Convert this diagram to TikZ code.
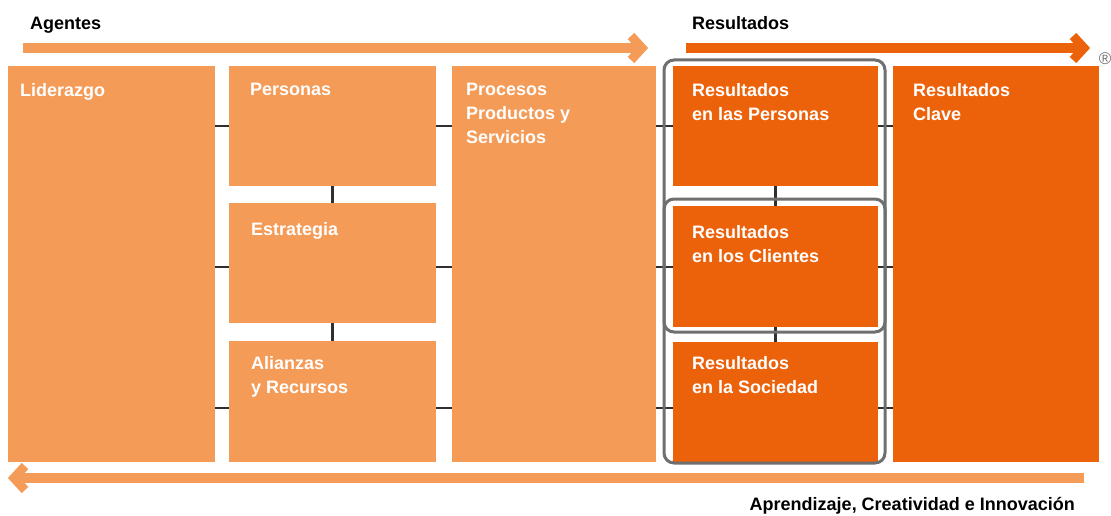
\documentclass[tikz,border=0pt]{standalone}
\usepackage{fontspec}
\setmainfont{Liberation Sans}
\usetikzlibrary{calc}
\definecolor{lightor}{HTML}{F49B57}
\definecolor{darkor}{HTML}{EC620B}
\definecolor{framegray}{HTML}{6F6F6F}
\definecolor{connc}{HTML}{2F2F2F}
\begin{document}
\begin{tikzpicture}[x=1pt,y=-1pt,
  blk/.style={anchor=north west, inner sep=0, outer sep=0, draw=none},
  lblk/.style={blk, fill=lightor},
  dblk/.style={blk, fill=darkor},
  lab/.style={anchor=north west, inner sep=0, align=left, text=white,
              font=\bfseries\fontsize{18}{24}\selectfont},
  ttl/.style={inner sep=0, text=black, font=\bfseries\fontsize{18}{22}\selectfont},
  conn/.style={draw=connc, line width=2.2pt},
  frm/.style={draw=framegray, line width=3pt, rounded corners=10pt},
  larrow/.style={lightor, line width=10pt},
  darrow/.style={darkor, line width=10pt},
  chev/.style={line width=9pt, line join=miter, line cap=butt}]
\useasboundingbox (0,0) rectangle (1111,516);

% titles
\node[ttl, anchor=base west] (ag) at (30,30) {Agentes};
\node[ttl, anchor=base west] (res) at (692,30) {Resultados};
\node[ttl, anchor=base east] (apr) at (1075,510) {Aprendizaje, Creatividad e Innovación};
\node[inner sep=0, text=framegray, font=\fontsize{17}{17}\selectfont] (reg) at (1105,59) {®};

% arrows
\coordinate (a1s) at (23,48);
\coordinate (a1e) at (641,48);
\draw[larrow] (a1s) -- (a1e);
\draw[chev, lightor] (631,36) -- (642,48) -- (631,60);
\coordinate (a2s) at (686,48);
\coordinate (a2e) at (1080,48);
\draw[darrow] (a2s) -- (a2e);
\draw[chev, darkor] (1073,36) -- (1084,48) -- (1073,60);
\coordinate (a3s) at (1084,478);
\coordinate (a3e) at (18,478);
\draw[larrow] (a3s) -- (a3e);
\draw[chev, lightor] (25,466) -- (14,478) -- (25,490);

% blocks
\node[lblk, minimum width=207pt, minimum height=396pt] (lid) at (8,66) {};
\node[lblk, minimum width=207pt, minimum height=120pt] (per) at (229,66) {};
\node[lblk, minimum width=207pt, minimum height=120pt] (est) at (229,203) {};
\node[lblk, minimum width=207pt, minimum height=121pt] (ali) at (229,341) {};
\node[lblk, minimum width=204pt, minimum height=396pt] (proc) at (452,66) {};
\node[dblk, minimum width=205pt, minimum height=120pt] (rp) at (673,66) {};
\node[dblk, minimum width=205pt, minimum height=121pt] (rc) at (673,206) {};
\node[dblk, minimum width=205pt, minimum height=120pt] (rs) at (673,342) {};
\node[dblk, minimum width=206pt, minimum height=396pt] (clave) at (893,66) {};

% labels
\node[lab] (tlid) at (20,83) {Liderazgo};
\node[lab] (tper) at (250,83) {Personas};
\node[lab] (test) at (251,222) {Estrategia};
\node[lab] (tali) at (251,356) {Alianzas\\y Recursos};
\node[lab] (tproc) at (466,83) {Procesos\\Productos y\\Servicios};
\node[lab] (trp) at (692,83) {Resultados\\en las Personas};
\node[lab] (trc) at (692,225) {Resultados\\en los Clientes};
\node[lab] (trs) at (692,356) {Resultados\\en la Sociedad};
\node[lab] (tclave) at (913,83) {Resultados\\Clave};

% connectors
\draw[conn] (lid.east |- per.west) -- (per.west);
\draw[conn] (lid.east |- 0,267) -- ($(est.west)+(0,4)$);
\draw[conn] (lid.east |- 0,408) -- (ali.west |- 0,408);
\draw[conn] (per.east) -- (proc.west |- per.east);
\draw[conn] ($(est.east)+(0,4)$) -- (proc.west |- 0,267);
\draw[conn] (ali.east |- 0,408) -- (proc.west |- 0,408);
\draw[conn] (per.south) -- (est.north);
\draw[conn] (est.south) -- (ali.north);

\draw[conn] (proc.east |- rp.west) -- (rp.west);
\draw[conn] (proc.east |- 0,267) -- (rc.west |- 0,267);
\draw[conn] (proc.east |- 0,408) -- (rs.west |- 0,408);
\draw[conn] (rp.east) -- (clave.west |- rp.east);
\draw[conn] (rc.east |- 0,267) -- (clave.west |- 0,267);
\draw[conn] (rs.east |- 0,408) -- (clave.west |- 0,408);
\draw[conn] (rp.south) -- (rc.north);
\draw[conn] (rc.south) -- (rs.north);

% frames
\draw[frm] (664,60) rectangle (885,463);
\draw[frm] (664,199) rectangle (885,332);
\end{tikzpicture}
\end{document}
